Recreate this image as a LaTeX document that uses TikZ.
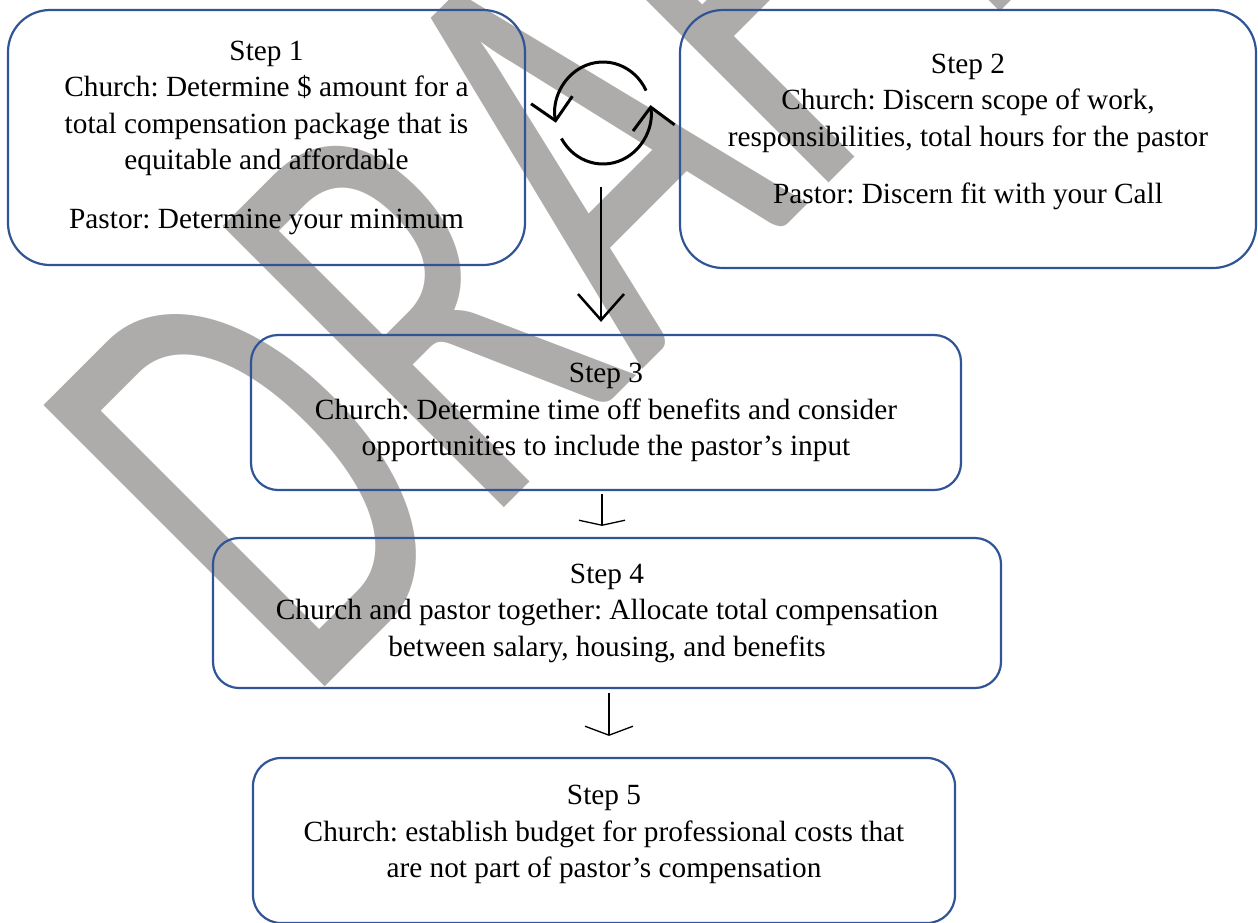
\documentclass[tikz,border=0pt]{standalone}
\usepackage{fontspec}
\setmainfont{Liberation Serif}
\newfontfamily\wmfont{Carlito}
\usetikzlibrary{arrows.meta}
\definecolor{boxblue}{RGB}{47,85,151}
\definecolor{wmgray}{RGB}{174,171,171}
\frenchspacing
\tikzset{
  stepbox/.style={draw=boxblue, line width=2.2pt, align=center, inner sep=0pt,
    font=\fontsize{29.3}{36.5}\selectfont},
  cyclearrow/.style={line width=3pt, -{Straight Barb[length=21pt,width=42pt]}},
  bigarrow/.style={line width=2.5pt, -{Straight Barb[length=26pt,width=46pt]}},
  smallarrow/.style={line width=1.3pt},
}
\begin{document}
\begin{tikzpicture}[x=1pt,y=1pt]
\useasboundingbox (0,0) rectangle (1258,-922);
\begin{scope}
\clip (0,0) rectangle (1258,-922);
\begin{scope}[shift={(305,-707)},rotate=45,xscale=4.1,yscale=6.2]
\node[transform shape,anchor=base west,inner sep=0pt,text=wmgray,
  font=\wmfont\fontsize{100}{100}\selectfont] (draft) at (0,0) {DRAFT};
\end{scope}

\node[stepbox, rounded corners=42pt, minimum width=517pt, minimum height=255pt] (s1) at (266.5,-137.5)
  {Step 1\\Church: Determine \$ amount for a\\total compensation package that is\\equitable and affordable\\[22pt]Pastor: Determine your minimum};
\node[stepbox, rounded corners=43pt, minimum width=576pt, minimum height=258pt] (s2) at (968,-139)
  {Step 2\\Church: Discern scope of work,\\responsibilities, total hours for the pastor\\[21pt]Pastor: Discern fit with your Call\rule[-20pt]{0pt}{0pt}};
\node[stepbox, rounded corners=27pt, minimum width=710pt, minimum height=155pt] (s3) at (606,-412.5)
  {Step 3\\Church: Determine time off benefits and consider\\opportunities to include the pastor’s input};
\node[stepbox, rounded corners=26pt, minimum width=788pt, minimum height=150pt] (s4) at (607,-613)
  {Step 4\\Church and pastor together: Allocate total compensation\\between salary, housing, and benefits};
\node[stepbox, rounded corners=28pt, minimum width=702pt, minimum height=165pt] (s5) at (604,-840.5)
  {Step 5\\Church: establish budget for professional costs that\\are not part of pastor’s compensation\rule[-18pt]{0pt}{0pt}};

\coordinate (cyc) at (603,-113);
\coordinate (gap) at (601,-187);
\draw[cyclearrow] (cyc) ++(26:48pt and 51pt) arc[start angle=26, end angle=191, x radius=48pt, y radius=51pt];
\draw[cyclearrow] (cyc) ++(210:48pt and 51pt) arc[start angle=210, end angle=369, x radius=48pt, y radius=51pt];

\path[draw,bigarrow,shorten >=12pt] (gap) -- (gap |- s3.north);
\path[draw,smallarrow,-{Straight Barb[length=5pt,width=46pt]},shorten <=3pt,shorten >=11pt]
  ([xshift=-4pt]s3.south) -- ([xshift=-4pt]s3.south |- s4.north);
\path[draw,smallarrow,-{Straight Barb[length=9pt,width=48pt]},shorten <=4pt,shorten >=21pt]
  ([xshift=2pt]s4.south) -- ([xshift=2pt]s4.south |- s5.north);
\end{scope}
\end{tikzpicture}
\end{document}
